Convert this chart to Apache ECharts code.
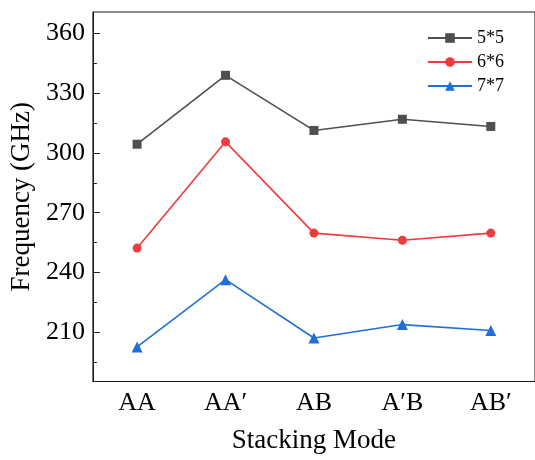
<!DOCTYPE html>
<html>
<head>
<meta charset="utf-8">
<script src="https://cdn.jsdelivr.net/npm/echarts@6/dist/echarts.min.js"></script>
<style>
  html, body { margin: 0; padding: 0; background: #fff; }
  #chart { width: 535px; height: 460px; }
</style>
</head>
<body>
<div id="chart"></div>
<script>
// Stacking modes along the x axis
const categories = ['AA', 'AA\u2032', 'AB', 'A\u2032B', 'AB\u2032'];

// Frequency (GHz) for each lattice size
const freq5x5 = [304.3, 338.8, 311.2, 316.8, 313.2];
const freq6x6 = [252.3, 305.5, 259.8, 256.2, 259.8];
const freq7x7 = [202.8, 236.5, 207.3, 214.0, 211.0];

const seriesNames = ['5*5', '6*6', '7*7'];

// Y axis labels and the minor ticks between them
const yTickValues = [210, 240, 270, 300, 330, 360];
const yMinorTickValues = [195, 225, 255, 285, 315, 345];

const FONT = '"Liberation Serif", "Times New Roman", serif';
const COLORS = ['#4f4f4f', '#ef3b3d', '#1f6fd9'];

const chart = echarts.init(document.getElementById('chart'), null, { renderer: 'canvas' });

function lineSeries(name, data, color, symbol, size) {
  return {
    name: name,
    type: 'line',
    data: data,
    symbol: symbol,
    symbolSize: size,
    showSymbol: true,
    lineStyle: { color: color, width: 1.6 },
    itemStyle: { color: color },
    emphasis: { disabled: true },
    animation: false
  };
}

chart.setOption({
  animation: false,
  grid: {
    left: 92, top: 12, width: 447, bottom: 78.5,
    show: true, borderColor: '#1a1a1a', borderWidth: 1,
    backgroundColor: 'transparent', containLabel: false
  },
  legend: {
    data: seriesNames,
    orient: 'vertical',
    left: 427, top: 29,
    itemWidth: 44, itemHeight: 12, itemGap: 6,
    textStyle: { fontFamily: FONT, fontSize: 18, color: '#000', padding: [0, 0, 0, 0] },
    padding: 0
  },
  xAxis: {
    type: 'category',
    data: categories,
    boundaryGap: true,
    name: 'Stacking Mode',
    nameLocation: 'middle',
    nameGap: 46,
    nameTextStyle: { fontFamily: FONT, fontSize: 27, color: '#000' },
    axisLine: { lineStyle: { color: '#1a1a1a', width: 1 } },
    axisTick: { inside: true, alignWithLabel: true, length: 6, lineStyle: { color: '#1a1a1a' } },
    axisLabel: { fontFamily: FONT, fontSize: 26, color: '#000', margin: 9 },
    splitLine: { show: false }
  },
  yAxis: [{
    type: 'value',
    min: 185.5, max: 370.5,
    name: 'Frequency (GHz)',
    nameLocation: 'middle',
    nameGap: 50,
    nameTextStyle: { fontFamily: FONT, fontSize: 27, color: '#000' },
    axisLine: { show: true, lineStyle: { color: '#1a1a1a', width: 1 } },
    axisTick: { show: true, inside: true, length: 7, customValues: yTickValues, lineStyle: { color: '#1a1a1a' } },
    axisLabel: { fontFamily: FONT, fontSize: 26, color: '#000', margin: 8, customValues: yTickValues },
    splitLine: { show: false }
  }, {
    type: 'value',
    position: 'left',
    min: 185.5, max: 370.5,
    axisLine: { show: false },
    axisTick: { show: true, inside: true, length: 4, customValues: yMinorTickValues, lineStyle: { color: '#1a1a1a' } },
    axisLabel: { show: false },
    splitLine: { show: false }
  }],
  series: [
    lineSeries(seriesNames[0], freq5x5, COLORS[0], 'rect', 9),
    lineSeries(seriesNames[1], freq6x6, COLORS[1], 'circle', 9),
    lineSeries(seriesNames[2], freq7x7, COLORS[2], 'triangle', 11)
  ]
});
</script>
</body>
</html>
